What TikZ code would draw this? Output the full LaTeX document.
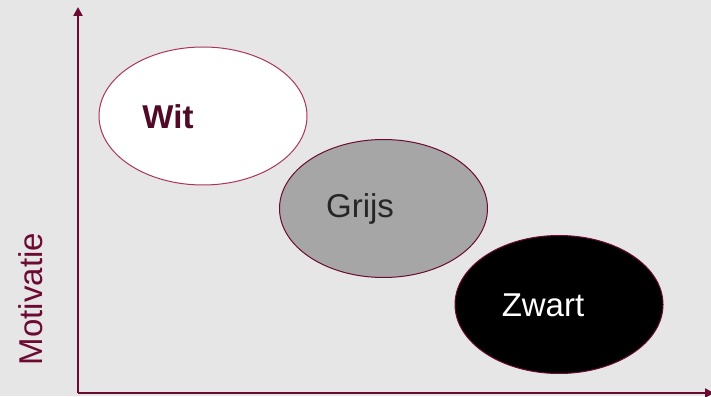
\documentclass[tikz,border=0pt]{standalone}
\usepackage{fontspec}
\setmainfont{Liberation Sans}
\usetikzlibrary{arrows.meta,shapes.geometric}
\definecolor{bg}{HTML}{E6E6E6}
\definecolor{axis}{HTML}{6B0A32}
\definecolor{witline}{HTML}{A8345E}
\definecolor{grijsfill}{HTML}{A6A6A6}
\definecolor{txtdark}{HTML}{500A28}
\begin{document}
\begin{tikzpicture}[x=1pt,y=1pt,
  blob/.style={ellipse,minimum width=208pt,minimum height=138pt,inner sep=0pt,line width=1pt},
  lbl/.style={font=\fontsize{33}{33}\selectfont,inner sep=0pt,anchor=center},
  axisline/.style={axis,line width=2.6pt,-{Triangle[length=9pt,width=9pt]}}]
\useasboundingbox (0,0) rectangle (711,396);
\fill[bg] (0,0) rectangle (711,396);
% axes
\coordinate (origin) at (78,3);
\coordinate (ytop) at (78,389);
\coordinate (xend) at (714,3);
\draw[axisline] (origin) -- (ytop);
\draw[axisline] (origin) -- (xend);
\node[lbl,text=axis,rotate=90] (mot) at (31,97) {Motivatie};
% ellipses
\node[blob,draw=witline,fill=white] (wit) at (203,280) {};
\node[blob,draw=axis,fill=grijsfill] (grijs) at (383.5,187.5) {};
\node[blob,draw=axis,fill=black] (zwart) at (559,91.5) {};
\node[lbl,text=txtdark,font=\fontsize{33}{33}\selectfont\bfseries] (witt) at (168,279) {Wit};
\node[lbl,text=black!85] (grijst) at (360,187) {Grijs};
\node[lbl,text=white] (zwartt) at (543,91) {Zwart};
\end{tikzpicture}
\end{document}
